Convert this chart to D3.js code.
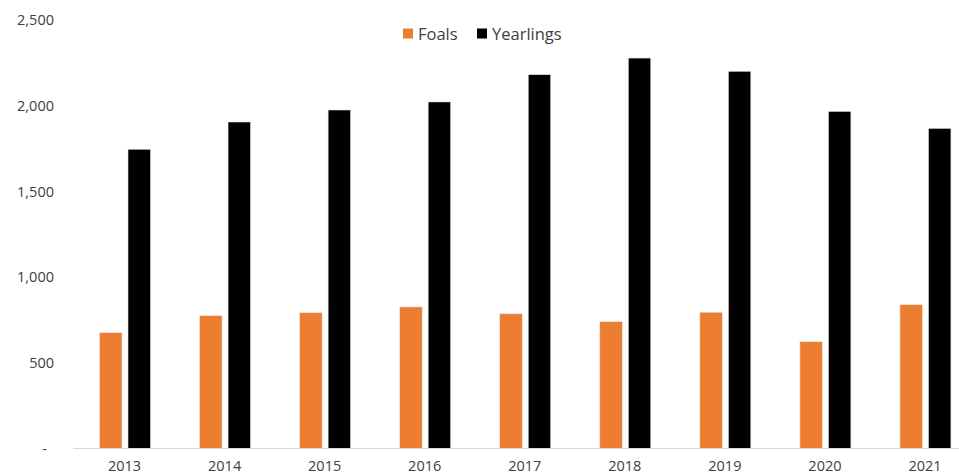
<!DOCTYPE html>
<html><head><meta charset="utf-8">
<script src="https://cdn.jsdelivr.net/npm/d3@7"></script>
<style>body{margin:0;background:#fff}svg{display:block}</style>
</head><body><svg id="c" width="959" height="476"></svg>
<script>
const years = ["2013","2014","2015","2016","2017","2018","2019","2020","2021"];
const seriesNames = ["Foals","Yearlings"];
const foals = [676, 775, 792, 826, 786, 740, 795, 623, 839];
const yearlings = [1746, 1905, 1975, 2022, 2181, 2278, 2201, 1967, 1868];
const yTicks = [0, 500, 1000, 1500, 2000, 2500];
const colors = {Foals: "#ED7D31", Yearlings: "#000000"};

const svg = d3.select("#c");
const font = "'Open Sans', 'Noto Sans', sans-serif";
const y = d3.scaleLinear().domain([0, 2500]).range([448.5, 20]);
const x0 = d3.scaleBand().domain(years).range([74.5, 975]).padding(0);
const x1 = d3.scaleBand().domain(seriesNames).range([25, 76]).paddingInner(0.21).paddingOuter(0);

// y axis labels
const yAxis = d3.axisLeft(y).tickValues(yTicks).tickSize(0).tickPadding(0)
  .tickFormat(d => d === 0 ? "-" : d3.format(",")(d));
const gy = svg.append("g").attr("transform", "translate(54,0)").call(yAxis);
gy.select(".domain").remove();
gy.selectAll("text").attr("font-family", font).attr("font-size", 14.5).attr("fill", "#404040")
  .attr("dx", d => d === 0 ? -7 : 0);

// bars
const data = years.map((yr, i) => ({year: yr, values: [{k: "Foals", v: foals[i]}, {k: "Yearlings", v: yearlings[i]}]}));
const g = svg.append("g");
g.selectAll("g.grp").data(data).join("g").attr("class", "grp")
  .attr("transform", d => `translate(${x0(d.year)},0)`)
  .selectAll("rect").data(d => d.values).join("rect")
  .attr("x", d => x1(d.k)).attr("width", x1.bandwidth())
  .attr("y", d => y(d.v)).attr("height", d => y(0) - y(d.v))
  .attr("fill", d => colors[d.k]).attr("stroke", "#e6e6e6").attr("stroke-width", 0.6);

// x axis
const xAxis = d3.axisBottom(x0).tickSize(0).tickPadding(12);
const gx = svg.append("g").attr("transform", `translate(0,${y(0)})`).call(xAxis);
gx.select(".domain").remove();
svg.append("line").attr("x1", 73).attr("x2", 959).attr("y1", y(0)).attr("y2", y(0))
  .attr("stroke", "#d9d9d9").attr("stroke-width", 1);
gx.selectAll("text").attr("font-family", font).attr("font-size", 14.5).attr("fill", "#404040");

// legend
const leg = svg.append("g");
const legItems = [{k: "Foals", x: 403}, {k: "Yearlings", x: 477}];
legItems.forEach(it => {
  leg.append("rect").attr("x", it.x).attr("y", 28.5).attr("width", 10).attr("height", 10).attr("fill", colors[it.k]);
  leg.append("text").attr("x", it.x + 15).attr("y", 40).text(it.k)
    .attr("font-family", font).attr("font-size", 16.5).attr("fill", "#404040");
});
</script></body></html>
